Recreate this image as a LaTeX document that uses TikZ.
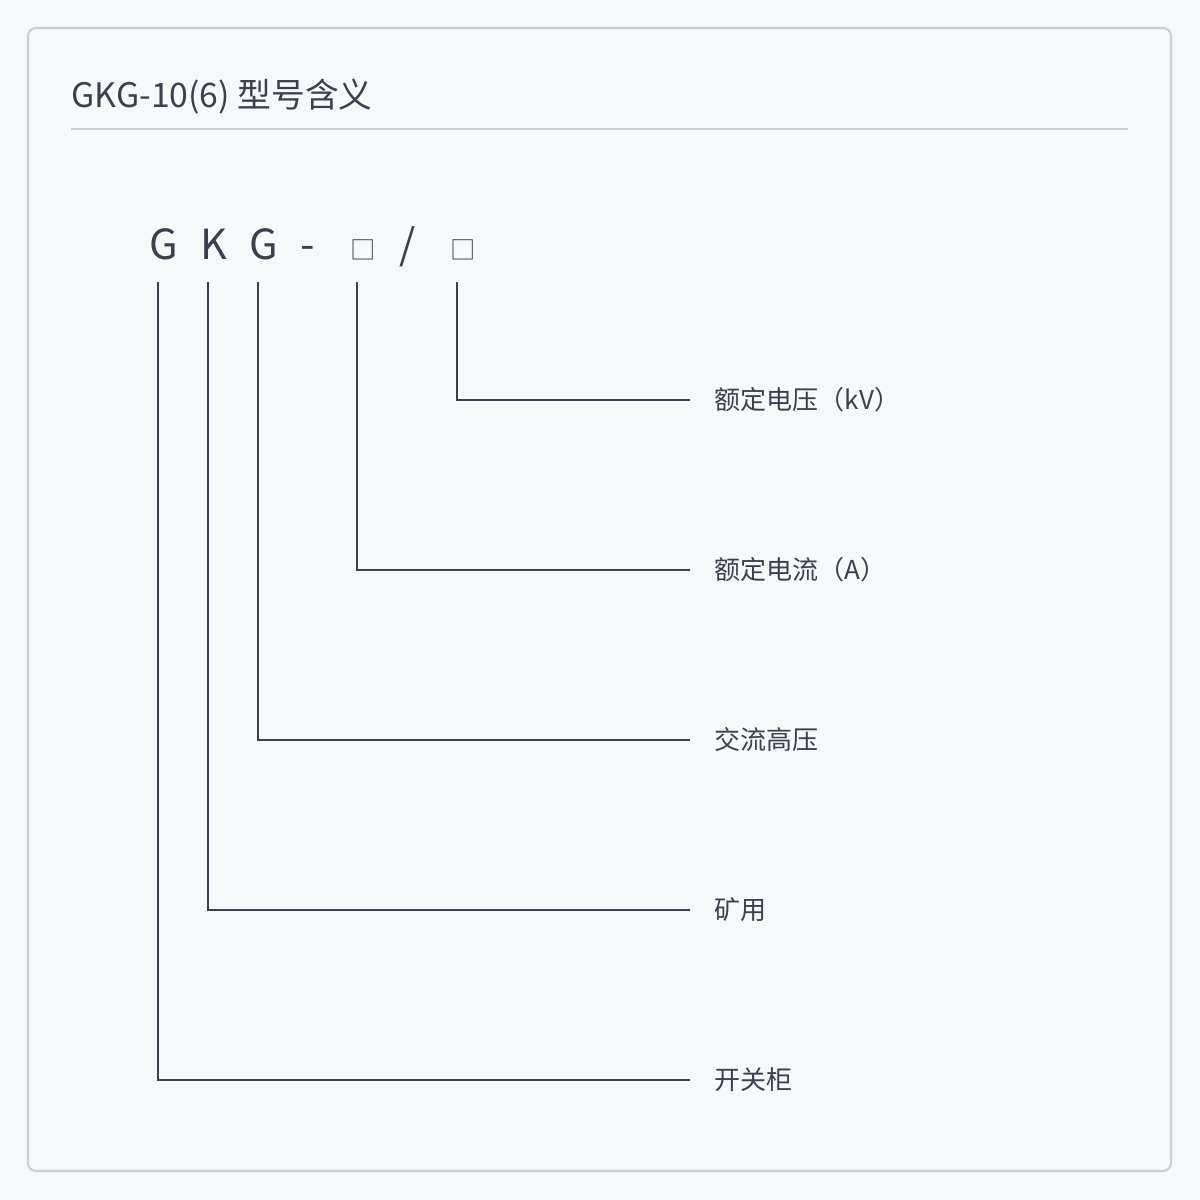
\documentclass[tikz,border=0pt]{standalone}
\usepackage{fontspec}
\setmainfont{Noto Sans CJK SC}
\usetikzlibrary{positioning}

\definecolor{bgpage}{HTML}{F7F8FA}
\definecolor{framegray}{HTML}{CBCED6}
\definecolor{inkgray}{HTML}{3B404C}

\begin{document}
\begin{tikzpicture}[x=0.01cm,y=-0.01cm,
  letter/.style={font=\fontsize{11.8}{12}\selectfont, text=inkgray, inner sep=0, anchor=base},
  meaning/.style={font=\fontsize{7.4}{8}\selectfont, text=inkgray, anchor=west, inner xsep=0.24cm, inner ysep=0},
  leader/.style={draw=inkgray, line width=0.55pt}]
  \fill[bgpage] (0,0) rectangle (1200,1200);
  \useasboundingbox (0,0) rectangle (1200,1200);

  % card and heading
  \draw[framegray, line width=0.6pt, fill=bgpage, rounded corners=0.08cm] (28,28) rectangle (1171,1171);
  \node[anchor=base west, inner sep=0, text=inkgray, font=\fontsize{9.6}{10}\selectfont] (title) at (71,107) {GKG-10(6) 型号含义};
  \draw[framegray, line width=0.5pt] (71,129) -- (1128,129);

  % model code, one letter per node
  \foreach \c/\x/\n in {G/164/g1, K/214/k, G/264/g2, -/308/dash, {\fontsize{7.2}{8}\selectfont □}/363/boxa, \slash/408/slash, {\fontsize{7.2}{8}\selectfont □}/463/boxb} {
    \node[letter] (\n) at (\x,259) {\c};
  }

  % leaders to the meanings
  \foreach \n/\y/\t in {boxb/400/额定电压（kV）, boxa/570/额定电流（A）, g2/740/交流高压, k/910/矿用, g1/1080/开关柜} {
    \node[meaning] (lab-\n) at (690,\y) {\t};
    \draw[leader] ([shift={(-6,23)}]\n.base) |- (lab-\n.west);
  }
\end{tikzpicture}
\end{document}
